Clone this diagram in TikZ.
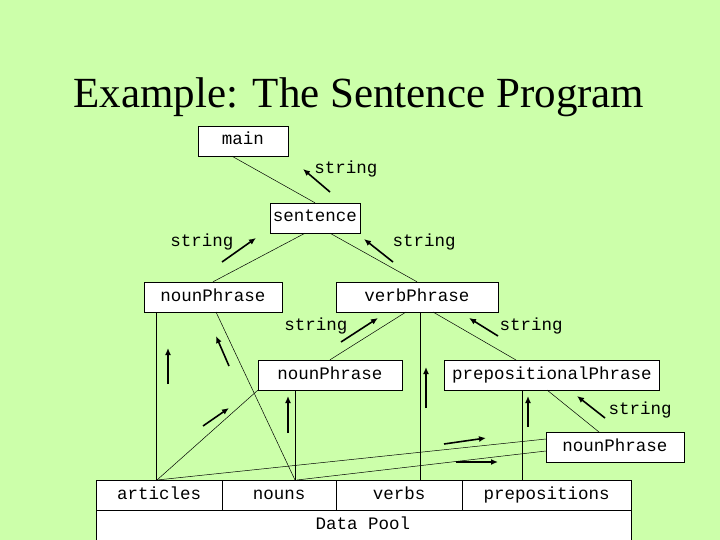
\documentclass[tikz,border=0pt]{standalone}
\usepackage{fontspec}
\setmainfont{Liberation Serif}
\setmonofont{Liberation Mono}
\usetikzlibrary{arrows.meta}
\definecolor{bg}{HTML}{CCFFAA}
\begin{document}
\begin{tikzpicture}[x=1pt,y=-1pt,
  box/.style={draw,fill=white,font=\fontsize{17.5}{17.5}\selectfont\ttfamily,inner sep=0pt,text height=11pt,text depth=3pt},
  lbl/.style={font=\fontsize{17.5}{17.5}\selectfont\ttfamily,text height=11pt,text depth=3pt},
  ln/.style={line width=0.5pt},
  arr/.style={line width=1.6pt,-{Latex[length=7pt,width=6pt]}}]
\fill[bg] (0,0) rectangle (720,540);
\useasboundingbox (0,0) rectangle (720,540);
\node[font=\fontsize{43}{43}\selectfont] (title) at (359,97) {Example: The Sentence Program};
% data pool
\node[box,minimum width=535pt,minimum height=45pt,anchor=north west] (pool) at (96,510) {};
\node[lbl,anchor=north] (dp) at (363,515) {Data Pool};
\node[box,minimum width=126pt,minimum height=30pt,anchor=north west] (art) at (96,480) {articles};
\node[box,minimum width=114pt,minimum height=30pt,anchor=north west] (nou) at (222,480) {nouns};
\node[box,minimum width=126pt,minimum height=30pt,anchor=north west] (ver) at (336,480) {verbs};
\node[box,minimum width=169pt,minimum height=30pt,anchor=north west] (pre) at (462,480) {prepositions};
% nodes
\node[box,minimum width=90pt,minimum height=30pt] (main) at (243,141) {main};
\node[box,minimum width=90pt,minimum height=30pt] (sent) at (315,218) {sentence};
\node[box,minimum width=138pt,minimum height=30pt] (np1) at (213,297) {nounPhrase};
\node[box,minimum width=162pt,minimum height=30pt] (vp) at (417,297) {verbPhrase};
\node[box,minimum width=144pt,minimum height=30pt] (np2) at (330,375) {nounPhrase};
\node[box,minimum width=215pt,minimum height=30pt] (pp) at (552,375) {prepositionalPhrase};
\node[box,minimum width=138pt,minimum height=30pt] (np3) at (615,447) {nounPhrase};
% connectors
\begin{scope}[ln]
\draw ([xshift=-11pt]main.south) -- (sent.north);
\draw ([xshift=-10pt]sent.south) -- (np1.north);
\draw ([xshift=15pt]sent.south) -- (vp.north);
\draw (156,312) -- (156,480);
\draw (216,312) -- (295,480);
\draw (406,312) -- (np2.north);
\draw (420,312) -- (420,480);
\draw (433,312) -- (516,360);
\draw (np2.south west) -- (157,480);
\draw (295,390) -- (295,480);
\draw (522,390) -- (522,480);
\draw (547,390) -- (599,432);
\draw (546,439) -- (157,480);
\draw (546,451) -- (297,480);
\end{scope}
% arrows
\draw[arr] (330,192) -- (303,169);
\draw[arr] (222,262) -- (256,238);
\draw[arr] (393,262) -- (364,239);
\draw[arr] (168,384) -- (168,348);
\draw[arr] (229,366) -- (216,336);
\draw[arr] (203,426) -- (229,408);
\draw[arr] (288,433) -- (288,396);
\draw[arr] (341,342) -- (378,318);
\draw[arr] (426,408) -- (426,367);
\draw[arr] (498,336) -- (469,318);
\draw[arr] (528,427) -- (528,396);
\draw[arr] (605,418) -- (577,396);
\draw[arr] (444,444) -- (486,438);
\draw[arr] (456,462) -- (498,462);
% labels
\node[lbl] (l1) at (346,170) {string};
\node[lbl] (l2) at (202,242) {string};
\node[lbl] (l3) at (424,242) {string};
\node[lbl] (l4) at (316,326) {string};
\node[lbl] (l5) at (531,326) {string};
\node[lbl] (l6) at (640,410) {string};
\end{tikzpicture}
\end{document}
